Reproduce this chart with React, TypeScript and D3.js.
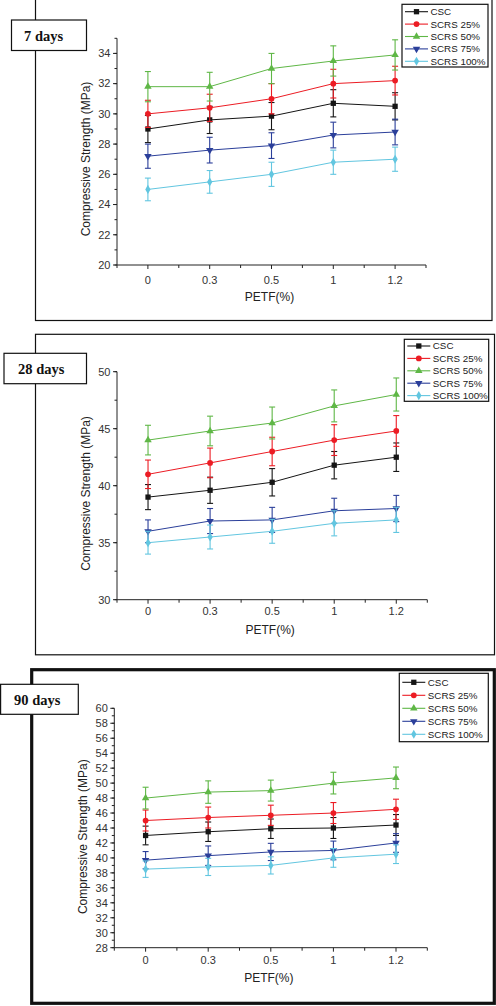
import * as d3 from 'd3'

// PETF content on the x axis (categorical)
const categories = ['0', '0.3', '0.5', '1', '1.2']
const seriesNames = ['CSC', 'SCRS 25%', 'SCRS 50%', 'SCRS 75%', 'SCRS 100%']

// compressive strength (MPa), one row per series
const day7Values = [
  [29.0, 29.6, 29.85, 30.7, 30.5],
  [30.0, 30.4, 31.0, 32.0, 32.2],
  [31.8, 31.8, 33.0, 33.5, 33.9],
  [27.2, 27.6, 27.9, 28.6, 28.8],
  [25.0, 25.5, 26.0, 26.8, 27.0],
]
const day7Errors = [
  [0.9, 0.9, 0.9, 0.9, 0.9],
  [0.9, 0.9, 1.0, 0.95, 0.95],
  [1.0, 0.95, 1.0, 1.0, 1.0],
  [0.8, 0.85, 0.85, 0.85, 0.85],
  [0.75, 0.75, 0.8, 0.8, 0.8],
]
const day28Values = [
  [39.0, 39.6, 40.3, 41.8, 42.5],
  [41.0, 42.0, 43.0, 44.0, 44.8],
  [44.0, 44.8, 45.5, 47.0, 48.0],
  [36.0, 36.9, 37.0, 37.8, 38.0],
  [35.0, 35.5, 36.0, 36.7, 37.0],
]
const day28Errors = [
  [1.1, 1.15, 1.2, 1.2, 1.25],
  [1.25, 1.3, 1.25, 1.35, 1.35],
  [1.3, 1.3, 1.4, 1.4, 1.45],
  [1.0, 1.1, 1.1, 1.1, 1.15],
  [1.0, 1.05, 1.05, 1.1, 1.1],
]
const day90Values = [
  [43.0, 43.5, 43.9, 44.0, 44.4],
  [45.0, 45.4, 45.7, 46.0, 46.5],
  [48.0, 48.8, 49.0, 50.0, 50.7],
  [39.7, 40.3, 40.8, 41.0, 42.0],
  [38.5, 38.8, 39.0, 40.0, 40.5],
]
const day90Errors = [
  [1.25, 1.3, 1.3, 1.4, 1.4],
  [1.4, 1.4, 1.35, 1.4, 1.35],
  [1.45, 1.5, 1.4, 1.45, 1.45],
  [1.15, 1.3, 1.15, 1.25, 1.25],
  [1.1, 1.15, 1.15, 1.25, 1.25],
]

const colors = ['#151515', '#ec1c24', '#5fb746', '#2b3f9a', '#62c6e0']
const symbolTypes = [d3.symbolSquare, d3.symbolCircle, d3.symbolTriangle, d3.symbolTriangle, d3.symbolDiamond]
const symbolSizes = [28, 26, 24, 24, 24]
const symbolRotate = [0, 0, 0, 180, 0]

const FONT = '"Liberation Sans", Arial, sans-serif'
const SERIF = '"Liberation Serif", "Times New Roman", serif'

interface PanelProps {
  title: string
  values: number[][]
  errors: number[][]
  frame: { x: number; y: number; w: number; h: number; stroke: number }
  tag: { x: number; y: number; w: number; h: number; tx: number; ty: number }
  plot: { left: number; right: number; top: number; bottom: number }
  yDomain: [number, number]
  yMajor: number
  yMinor: number
  legend: { x: number; y: number; w: number; h: number; row0: number; step: number }
  yTitle: { x: number; y: number }
  xTitleY: number
  xLabelY: number
}

function Marker({ i, x, y }: { i: number; x: number; y: number }) {
  const path = d3.symbol().type(symbolTypes[i]).size(symbolSizes[i])()
  return (
    <path
      d={path ?? ''}
      transform={`translate(${x},${y}) rotate(${symbolRotate[i]})`}
      fill={colors[i]}
    />
  )
}

function Panel(p: PanelProps) {
  const x = d3.scaleLinear().domain([0.5, categories.length + 0.5]).range([p.plot.left, p.plot.right])
  const y = d3.scaleLinear().domain(p.yDomain).range([p.plot.bottom, p.plot.top])
  const majors = d3.range(p.yDomain[0], p.yDomain[1] + 1e-6, p.yMajor)
  const minors = d3.range(p.yDomain[0], p.yDomain[1] + 1e-6, p.yMinor)
  const xMinor = d3.range(0.5, categories.length + 0.51, 0.5)
  const line = d3.line<number>().x((_, j) => x(j + 1)).y(d => y(d))
  const xTitleX = (p.plot.left + p.plot.right) / 2 - 2

  return (
    <g>
      <rect x={p.frame.x} y={p.frame.y} width={p.frame.w} height={p.frame.h}
        fill="none" stroke="#111" strokeWidth={p.frame.stroke} />
      <rect x={p.tag.x} y={p.tag.y} width={p.tag.w} height={p.tag.h}
        fill="#fff" stroke="#111" strokeWidth={1.2} />
      <text x={p.tag.tx} y={p.tag.ty} fontFamily={SERIF} fontWeight="bold" fontSize={14.5} fill="#111">
        {p.title}
      </text>

      {/* y axis */}
      <line x1={p.plot.left} x2={p.plot.left} y1={p.plot.top} y2={p.plot.bottom} stroke="#222" />
      {minors.map(v => (
        <line key={'m' + v} x1={p.plot.left - 2.5} x2={p.plot.left} y1={y(v)} y2={y(v)} stroke="#222" />
      ))}
      {majors.map(v => (
        <g key={'M' + v}>
          <line x1={p.plot.left - 4} x2={p.plot.left} y1={y(v)} y2={y(v)} stroke="#222" />
          <text x={p.plot.left - 6.5} y={y(v)} dy="0.35em" textAnchor="end"
            fontFamily={FONT} fontSize={11} fill="#333">{v}</text>
        </g>
      ))}

      {/* x axis */}
      <line x1={p.plot.left} x2={p.plot.right} y1={p.plot.bottom} y2={p.plot.bottom} stroke="#222" />
      {xMinor.map(v => (
        <line key={'x' + v} x1={x(v)} x2={x(v)} y1={p.plot.bottom}
          y2={p.plot.bottom + (Number.isInteger(v) ? 4 : 3)} stroke="#222" />
      ))}
      {categories.map((c, j) => (
        <text key={c} x={x(j + 1)} y={p.xLabelY} dy="0.35em" textAnchor="middle"
          fontFamily={FONT} fontSize={11} fill="#333">{c}</text>
      ))}
      <text x={xTitleX} y={p.xTitleY} dy="0.35em" textAnchor="middle" fontFamily={FONT} fontSize={12} fill="#222">
        PETF(%)
      </text>
      <text transform={`translate(${p.yTitle.x},${p.yTitle.y}) rotate(-90)`} dy="0.35em" textAnchor="middle"
        fontFamily={FONT} fontSize={12} fill="#222">
        Compressive Strength (MPa)
      </text>

      {/* series */}
      {p.values.map((row, i) => (
        <g key={seriesNames[i]}>
          <path d={line(row) ?? ''} fill="none" stroke={colors[i]} strokeWidth={1} />
          {row.map((v, j) => {
            const e = p.errors[i][j]
            const cx = x(j + 1)
            return (
              <g key={j} stroke={colors[i]} strokeWidth={1.1}>
                <line x1={cx} x2={cx} y1={y(v - e)} y2={y(v + e)} />
                <line x1={cx - 3} x2={cx + 3} y1={y(v - e)} y2={y(v - e)} />
                <line x1={cx - 3} x2={cx + 3} y1={y(v + e)} y2={y(v + e)} />
              </g>
            )
          })}
          {row.map((v, j) => <Marker key={'k' + j} i={i} x={x(j + 1)} y={y(v)} />)}
        </g>
      ))}

      {/* legend */}
      <rect x={p.legend.x} y={p.legend.y} width={p.legend.w} height={p.legend.h}
        fill="#fff" stroke="#111" strokeWidth={1.2} />
      {seriesNames.map((name, i) => {
        const ly = p.legend.row0 + i * p.legend.step
        const lx = p.legend.x + 3
        return (
          <g key={name}>
            <line x1={lx} x2={lx + 23} y1={ly} y2={ly} stroke={colors[i]} strokeWidth={1.1} />
            <Marker i={i} x={lx + 11.5} y={ly} />
            <text x={lx + 25.5} y={ly} dy="0.35em" fontFamily={FONT} fontSize={9.8} fill="#222">{name}</text>
          </g>
        )
      })}
    </g>
  )
}

export default function App() {
  return (
    <svg width={496} height={1006} style={{ position: 'absolute', left: 0, top: 0, background: '#fff' }}>
      <Panel
        title="7 days" values={day7Values} errors={day7Errors}
        frame={{ x: 35.5, y: -2, w: 456.5, h: 322.5, stroke: 1.2 }}
        tag={{ x: 11.5, y: 20, w: 75, h: 30.5, tx: 24, ty: 40.5 }}
        plot={{ left: 117, right: 426, top: 38.3, bottom: 265 }}
        yDomain={[20, 35]} yMajor={2} yMinor={1}
        legend={{ x: 402, y: 4.3, w: 86, h: 62.7, row0: 11.7, step: 12.4 }}
        yTitle={{ x: 86, y: 159 }} xTitleY={297} xLabelY={280}
      />
      <Panel
        title="28 days" values={day28Values} errors={day28Errors}
        frame={{ x: 35.5, y: 334.3, w: 459, h: 320.5, stroke: 1.2 }}
        tag={{ x: 4, y: 353.3, w: 82.5, h: 30.4, tx: 18, ty: 373.7 }}
        plot={{ left: 117, right: 427.3, top: 371.7, bottom: 599.7 }}
        yDomain={[30, 50]} yMajor={5} yMinor={2.5}
        legend={{ x: 404.3, y: 339.3, w: 84.4, h: 62, row0: 346, step: 12.4 }}
        yTitle={{ x: 86, y: 493.5 }} xTitleY={630} xLabelY={611}
      />
      <Panel
        title="90 days" values={day90Values} errors={day90Errors}
        frame={{ x: 31.7, y: 669.7, w: 462.6, h: 333.6, stroke: 3.2 }}
        tag={{ x: 0.6, y: 684.3, w: 77.7, h: 30, tx: 14, ty: 704.5 }}
        plot={{ left: 114.3, right: 427.3, top: 708.3, bottom: 947.7 }}
        yDomain={[28, 60]} yMajor={2} yMinor={1}
        legend={{ x: 399.3, y: 673.3, w: 89, h: 68.4, row0: 682.3, step: 13 }}
        yTitle={{ x: 82.3, y: 836.7 }} xTitleY={978} xLabelY={960}
      />
    </svg>
  )
}
